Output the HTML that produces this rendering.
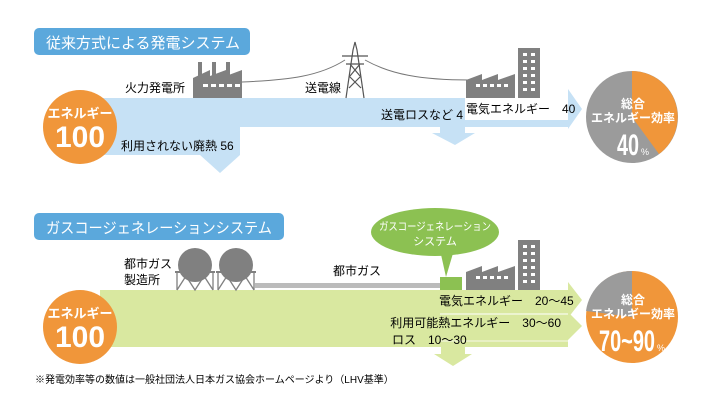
<!DOCTYPE html>
<html><head><meta charset="utf-8"><style>
body{margin:0;background:#fff}
svg{display:block}
text{font-family:"Liberation Sans","Noto Sans CJK JP",sans-serif}
</style></head><body>
<svg width="710" height="410" viewBox="0 0 710 410" xmlns="http://www.w3.org/2000/svg">
<!-- TOP -->
<rect x="34" y="28" width="216" height="27" rx="5" fill="#5ba8dc"/>
<text x="46" y="48" font-size="15" fill="#fff" textLength="194" lengthAdjust="spacingAndGlyphs">従来方式による発電システム</text>
<path d="M100 98 H465 V120 H568 V89 L582 109 L568 129 V127 H465 V133 H475 L455 145 L432 133 H440 V127 H240 V155 H240 L220 173 L200 155 H100 Z" fill="#c6e1f5"/>
<path d="M242 82 C290 80 320 76 345 60 M365 60 C390 74 420 80 470 80" stroke="#777" fill="none" stroke-width="1"/>
<g stroke="#555" stroke-width="1.2" fill="none">
<path d="M346 98 L353 50 L355 42 L357 50 L364 98"/>
<path d="M342 56 H368 M346 64 H364 M349 76 L361 88 M361 76 L349 88 M350 64 L360 76 M360 64 L350 76"/>
</g>
<g fill="#808080">
<rect x="198" y="62" width="4" height="18"/><rect x="212" y="62" width="4" height="18"/><rect x="226" y="62" width="4" height="18"/>
<path d="M193 98 V78 L210 70 V76 L226 70 V76 L242 70 V98 Z"/>
</g>
<g fill="#fff"><rect x="203" y="84" width="5" height="3"/><rect x="211" y="84" width="5" height="3"/><rect x="219" y="84" width="5" height="3"/><rect x="227" y="84" width="5" height="3"/><rect x="235" y="84" width="5" height="3"/></g>
<g fill="#808080">
<path d="M466 98 V80 L482 74 V80 L498 74 V80 L515 74 V98 Z"/>
<rect x="518" y="48" width="22" height="50"/>
</g>
<g fill="#fff"><rect x="476" y="84" width="4" height="3"/><rect x="483" y="84" width="4" height="3"/><rect x="490" y="84" width="4" height="3"/><rect x="497" y="84" width="4" height="3"/><rect x="504" y="84" width="4" height="3"/>
<rect x="523" y="53" width="4" height="3"/><rect x="531" y="53" width="4" height="3"/><rect x="523" y="60" width="4" height="3"/><rect x="531" y="60" width="4" height="3"/><rect x="523" y="67" width="4" height="3"/><rect x="531" y="67" width="4" height="3"/><rect x="523" y="74" width="4" height="3"/><rect x="531" y="74" width="4" height="3"/><rect x="523" y="81" width="4" height="3"/><rect x="531" y="81" width="4" height="3"/><rect x="523" y="88" width="4" height="3"/><rect x="531" y="88" width="4" height="3"/></g>
<circle cx="80" cy="127" r="37" fill="#f0963a"/>
<text x="80" y="118" font-size="13" fill="#fff" text-anchor="middle" font-weight="bold">エネルギー</text>
<text x="80" y="147" font-size="30" fill="#fff" text-anchor="middle" font-weight="bold">100</text>
<text x="125" y="92" font-size="12">火力発電所</text>
<text x="305" y="92" font-size="12">送電線</text>
<text x="121" y="150" font-size="12">利用されない廃熱 56</text>
<text x="381" y="119" font-size="12">送電ロスなど 4</text>
<text x="466" y="113" font-size="12">電気エネルギー　40</text>
<circle cx="632" cy="117" r="46" fill="#9b9b9b"/>
<path d="M632 117 V71 A46 46 0 0 1 659 154 Z" fill="#f0963a"/>
<text x="633" y="108" font-size="12" fill="#fff" text-anchor="middle" font-weight="bold">総合</text>
<text x="633" y="122" font-size="12" fill="#fff" text-anchor="middle" font-weight="bold">エネルギー効率</text>
<text x="617" y="155" font-size="30" fill="#fff" font-weight="bold" textLength="22" lengthAdjust="spacingAndGlyphs">40</text>
<text x="641" y="155" font-size="9" fill="#fff">%</text>

<!-- BOTTOM -->
<rect x="34" y="213" width="250" height="27" rx="5" fill="#5ba8dc"/>
<text x="46" y="233" font-size="15" fill="#fff" textLength="226" lengthAdjust="spacingAndGlyphs">ガスコージェネレーションシステム</text>
<path d="M100 290 H568 V282 L582 300 L568 318 V347 H465 V354 H472 L453 366 L434 354 H441 V347 H100 Z" fill="#d9e8a0"/>
<path d="M440 318 H568 V312 L582 326 L568 340 V341 H440 Z" fill="#d9e8a0"/>
<path d="M440 314 H568" stroke="#fff" stroke-width="1"/>
<path d="M441 341 H568" stroke="#fff" stroke-width="0.8"/>
<rect x="255" y="283" width="186" height="5" fill="#bbb"/>
<g fill="#808080">
<circle cx="195" cy="265" r="17"/><circle cx="236" cy="265" r="17"/>
<rect x="175" y="271" width="40" height="2"/><rect x="216" y="271" width="40" height="2"/>
</g>
<g stroke="#808080" stroke-width="1.3" fill="none">
<path d="M177 273 V290 M213 273 V290 M177 290 L186 276 L195 290 L204 276 L213 290"/>
<path d="M218 273 V290 M254 273 V290 M218 290 L227 276 L236 290 L245 276 L254 290"/>
</g>
<ellipse cx="435" cy="232" rx="64" ry="24" fill="#8cc152"/>
<path d="M440 250 L446 277 L454 250 Z" fill="#8cc152"/>
<rect x="440" y="277" width="22" height="13" fill="#8cc152"/>
<text x="435" y="230" font-size="11" fill="#fff" text-anchor="middle" textLength="112" lengthAdjust="spacingAndGlyphs">ガスコージェネレーション</text>
<text x="435" y="245" font-size="11" fill="#fff" text-anchor="middle">システム</text>
<g fill="#808080">
<path d="M466 290 V272 L482 266 V272 L498 266 V272 L515 266 V290 Z"/>
<rect x="518" y="240" width="22" height="50"/>
</g>
<g fill="#fff"><rect x="476" y="276" width="4" height="3"/><rect x="483" y="276" width="4" height="3"/><rect x="490" y="276" width="4" height="3"/><rect x="497" y="276" width="4" height="3"/><rect x="504" y="276" width="4" height="3"/>
<rect x="523" y="245" width="4" height="3"/><rect x="531" y="245" width="4" height="3"/><rect x="523" y="252" width="4" height="3"/><rect x="531" y="252" width="4" height="3"/><rect x="523" y="259" width="4" height="3"/><rect x="531" y="259" width="4" height="3"/><rect x="523" y="266" width="4" height="3"/><rect x="531" y="266" width="4" height="3"/><rect x="523" y="273" width="4" height="3"/><rect x="531" y="273" width="4" height="3"/><rect x="523" y="280" width="4" height="3"/><rect x="531" y="280" width="4" height="3"/></g>
<circle cx="80" cy="327" r="37" fill="#f0963a"/>
<text x="80" y="318" font-size="13" fill="#fff" text-anchor="middle" font-weight="bold">エネルギー</text>
<text x="80" y="347" font-size="30" fill="#fff" text-anchor="middle" font-weight="bold">100</text>
<text x="124" y="268" font-size="12">都市ガス</text>
<text x="124" y="284" font-size="12">製造所</text>
<text x="333" y="275" font-size="12">都市ガス</text>
<text x="439" y="305" font-size="12">電気エネルギー　20〜45</text>
<text x="561" y="327" font-size="12" text-anchor="end">利用可能熱エネルギー　30〜60</text>
<text x="392" y="344" font-size="12">ロス　10〜30</text>
<circle cx="632" cy="317" r="46" fill="#f0963a"/>
<path d="M632 317 V271 A46 46 0 0 0 586 311 Z" fill="#9b9b9b"/>
<text x="633" y="304" font-size="12" fill="#fff" text-anchor="middle" font-weight="bold">総合</text>
<text x="633" y="318" font-size="12" fill="#fff" text-anchor="middle" font-weight="bold">エネルギー効率</text>
<text x="599" y="351" font-size="30" fill="#fff" font-weight="bold" textLength="56" lengthAdjust="spacingAndGlyphs">70~90</text>
<text x="657" y="351" font-size="9" fill="#fff">%</text>
<text x="35" y="383" font-size="10">※発電効率等の数値は一般社団法人日本ガス協会ホームページより（LHV基準）</text>
</svg>
</body></html>
